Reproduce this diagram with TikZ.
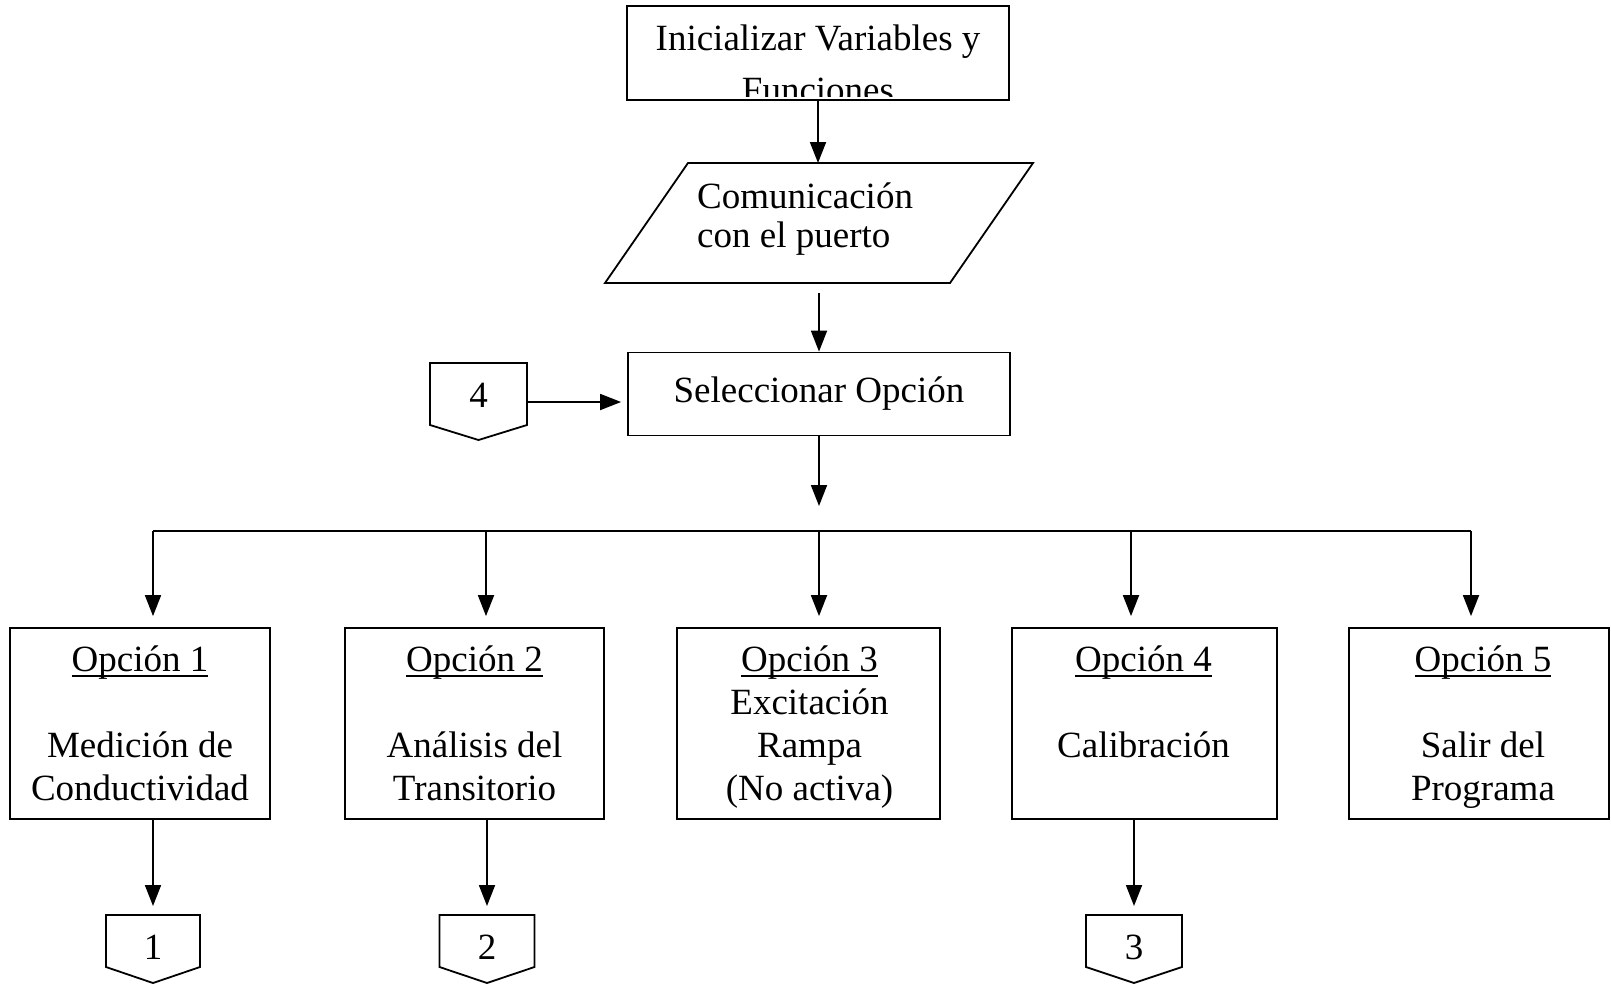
\documentclass[tikz,border=0pt]{standalone}
\usepackage{fontspec}
\setmainfont{Liberation Serif}
\usetikzlibrary{arrows.meta,calc}

% underline drawn close to the baseline, crossing descenders
\newsavebox\ulbox
\newcommand\opul[1]{\sbox\ulbox{#1}\rlap{\rule[-5.5pt]{\wd\ulbox}{1.6pt}}\usebox\ulbox}

\tikzset{
  wire/.style={line width=1.8pt},
  box/.style={draw, line width=1.8pt, inner sep=0pt},
  txt/.style={inner sep=0pt, align=center, font=\fontsize{37}{43}\selectfont},
  arr/.style={line width=1.8pt, -{Triangle[width=16pt,length=21pt]}},
  % off-page connector: text, width, side height, tip depth
  pics/offpg/.style n args={4}{code={
    \draw[wire] (-#2/2,0) -- (#2/2,0) -- (#2/2,#3) -- (0,#4) -- (-#2/2,#3) -- cycle;
    \coordinate (-top) at (0,0);
    \coordinate (-right) at (#2/2,39);
    \node[txt, anchor=base] (-label) at (0,44) {#1};
  }}
}

\begin{document}
\begin{tikzpicture}[x=1pt, y=-1pt]
\useasboundingbox (0,0) rectangle (1611,988);

% start box (second line cut by the frame)
\begin{scope}
  \clip (629,8) rectangle (1007,96);
  \node[txt, font=\fontsize{37}{52}\selectfont, anchor=north] (inittxt) at (818,13.6)
    {\strut Inicializar Variables y\\Funciones};
\end{scope}
\node[box, minimum width=382pt, minimum height=94pt] (init) at (818,53) {};

% port communication (input/output)
\draw[wire] (688,163) -- (1033,163) -- (950,283) -- (605,283) -- cycle;
\node[txt, align=left, font=\fontsize{37}{39}\selectfont, anchor=north west] (com)
  at (697,180.7) {\strut Comunicación\\con el puerto};
\coordinate (comtop) at (818,163);
\coordinate (combot) at (819,293);

% option selection
\node[box, minimum width=382pt, minimum height=83pt, font=\fontsize{37}{43}\selectfont]
  (sel) at (819,394) {\strut Seleccionar Opción};
\coordinate (seltip) at (819,506);

\pic (c4) at (478.5,363) {offpg={4}{97}{62}{77}};

% option boxes
\node[box, minimum width=260pt, minimum height=191pt] (o1) at (140,723.5) {};
\node[box, minimum width=259pt, minimum height=191pt] (o2) at (474.5,723.5) {};
\node[box, minimum width=263pt, minimum height=191pt] (o3) at (808.5,723.5) {};
\node[box, minimum width=265pt, minimum height=191pt] (o4) at (1144.5,723.5) {};
\node[box, minimum width=260pt, minimum height=191pt] (o5) at (1479,723.5) {};

\node[txt, anchor=north] (t1) at ($(o1.north)+(0,13.9)$)
  {\strut\opul{Opción 1}\\\strut\\Medición de\\Conductividad};
\node[txt, anchor=north] (t2) at ($(o2.north)+(0,13.9)$)
  {\strut\opul{Opción 2}\\\strut\\Análisis del\\Transitorio};
\node[txt, anchor=north] (t3) at ($(o3.north)+(1,13.9)$)
  {\strut\opul{Opción 3}\\Excitación\\Rampa\\(No activa)};
\node[txt, anchor=north] (t4) at ($(o4.north)+(-1,13.9)$)
  {\strut\opul{Opción 4}\\\strut\\Calibración};
\node[txt, anchor=north] (t5) at ($(o5.north)+(4,13.9)$)
  {\strut\opul{Opción 5}\\\strut\\Salir del\\Programa};

% off-page connectors below
\pic (c1) at (153,915) {offpg={1}{94}{52}{68}};
\pic (c2) at (487,915) {offpg={2}{95}{52}{68}};
\pic (c3) at (1134,915) {offpg={3}{96}{52}{68}};

% distribution bus
\coordinate (b1) at (153,531);
\coordinate (b2) at (486,531);
\coordinate (b3) at (819,531);
\coordinate (b4) at (1131,531);
\coordinate (b5) at (1471,531);

% flow
\draw[arr] (init.south) -- (comtop);
\draw[arr] (combot) -- (combot |- sel.north);
\draw[arr] (c4-right) -- ($(sel.west |- c4-right)+(-6,0)$);
\draw[arr] (sel.south) -- (seltip);
\draw[wire] (b1) -- (b5);
\foreach \i in {1,...,5}
  \draw[arr, shorten >=11pt] (b\i) -- (b\i |- o\i.north);
\draw[arr, shorten >=9pt] (o1.south -| c1-top) -- (c1-top);
\draw[arr, shorten >=9pt] (o2.south -| c2-top) -- (c2-top);
\draw[arr, shorten >=9pt] (o4.south -| c3-top) -- (c3-top);
\end{tikzpicture}
\end{document}
